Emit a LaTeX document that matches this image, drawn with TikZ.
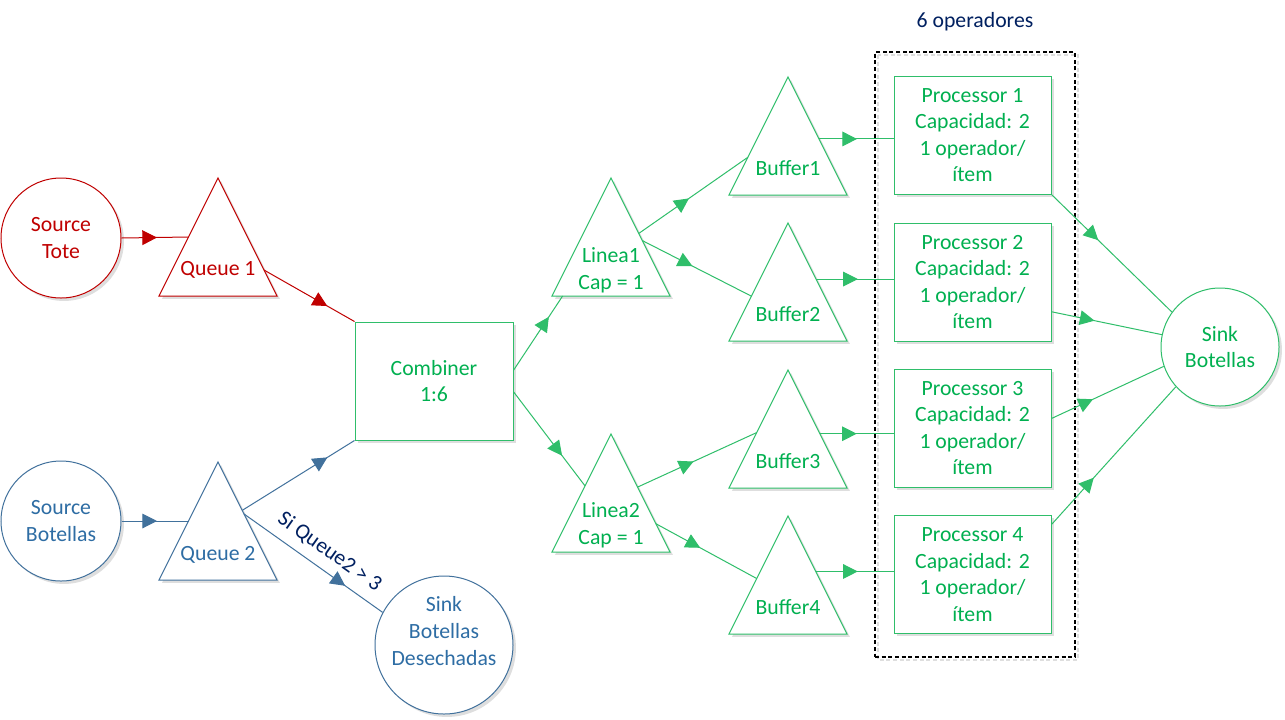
\documentclass[tikz,border=0pt]{standalone}
\usepackage{fontspec}
\setmainfont{Carlito}
\usetikzlibrary{arrows.meta,decorations.markings,calc,shadows}
\definecolor{cred}{HTML}{C00000}
\definecolor{cblue}{HTML}{41719C}
\definecolor{cbluet}{HTML}{2E6DA4}
\definecolor{cgreen}{HTML}{00B050}
\definecolor{cgline}{HTML}{2FBE6A}
\definecolor{cnavy}{HTML}{002060}
\definecolor{cshadow}{HTML}{DEDEDE}
\newcommand{\mytri}[4]{%
  \coordinate (#1a) at (#2,#3);
  \coordinate (#1l) at (#2-59,#3+118);
  \coordinate (#1r) at (#2+59,#3+118);
  \fill[cshadow] ([xshift=2.2pt,yshift=-2.2pt]#1a) -- ([xshift=2.2pt,yshift=-2.2pt]#1l) -- ([xshift=2.2pt,yshift=-2.2pt]#1r) -- cycle;
  \draw[#4, fill=white, line width=0.75pt] (#1a) -- (#1l) -- (#1r) -- cycle;}
\tikzset{
  txt/.style={font=\fontsize{16.3}{19.9}\selectfont, align=center, inner sep=0pt},
  shad/.style={drop shadow={shadow xshift=2.2pt, shadow yshift=-2.2pt, fill=cshadow, opacity=1}},
  circ/.style={circle, draw, fill=white, minimum size=#1, inner sep=0pt, line width=0.75pt, shad, txt},
  boxnode/.style={rectangle, draw=cgline, fill=white, minimum width=117.75pt, minimum height=88.5pt, line width=0.75pt, shad, txt, text=cgreen},
  conn/.style={line width=0.75pt, postaction={decorate}, decoration={markings, mark=at position #1 with {\arrow{Triangle[length=11pt,width=11pt]}}}},
  conn/.default=0.5,
}
\begin{document}
\begin{tikzpicture}[x=0.75pt, y=-0.75pt]
\useasboundingbox (0,0) rectangle (1285,719);
\fill[white] (0,0) rectangle (1285,719);

% group box
\draw[cshadow, dash pattern=on 3pt off 2pt, line width=1pt] (878,55) rectangle (1078,660);
\node[draw=black, dash pattern=on 3pt off 2pt, line width=0.9pt, minimum width=150pt, minimum height=453.75pt, inner sep=0pt] (grp) at (975,354.5) {};
\node[txt, text=cnavy] (grpl) at (975,22) {6 operadores};

% triangles
\mytri{q1}{218}{178}{cred}
\mytri{q2}{218}{462}{cblue}
\mytri{l1}{611}{178}{cgline}
\mytri{l2}{611}{434}{cgline}
\mytri{b1}{788}{77}{cgline}
\mytri{b2}{788}{223}{cgline}
\mytri{b3}{788}{370}{cgline}
\mytri{b4}{788}{516}{cgline}

\node[txt, text=cred] (q1) at (218,270) {Queue 1};
\node[txt, text=cbluet] (q2) at (218,555) {Queue 2};
\node[txt, text=cgreen] (l1) at (611,270) {Linea1\\Cap = 1};
\node[txt, text=cgreen] (l2) at (611,525.5) {Linea2\\Cap = 1};
\node[txt, text=cgreen] (b1) at (788,168) {Buffer1};
\node[txt, text=cgreen] (b2) at (788,314) {Buffer2};
\node[txt, text=cgreen] (b3) at (788,461) {Buffer3};
\node[txt, text=cgreen] (b4) at (788,607) {Buffer4};

% circles
\node[circ=90pt, draw=cred, text=cred] (st) at (61,238) {Source\\Tote};
\node[circ=90pt, draw=cblue, text=cbluet] (sb) at (61,521) {Source\\Botellas};
\node[circ=103.5pt, draw=cblue] (sd) at (444,645) {};
\node[txt, text=cbluet] (sdt) at (444,631) {Sink\\Botellas\\Desechadas};
\node[circ=88.5pt, draw=cgline, text=cgreen] (sk) at (1220,347) {Sink\\Botellas};

% boxes
\node[boxnode, minimum width=118.5pt] (comb) at (434,381) {Combiner\\1:6};
\node[boxnode] (p1) at (972.5,135) {Processor 1\\Capacidad: 2\\1 operador/\\ítem};
\node[boxnode] (p2) at (972.5,282) {Processor 2\\Capacidad: 2\\1 operador/\\ítem};
\node[boxnode] (p3) at (972.5,428) {Processor 3\\Capacidad: 2\\1 operador/\\ítem};
\node[boxnode] (p4) at (972.5,574.5) {Processor 4\\Capacidad: 2\\1 operador/\\ítem};

% connectors
\draw[conn=0.53, cred] (st.east) -- ($(q1a)!0.5!(q1l)$);
\draw[conn=0.70, cred] ($(q1a)!0.78!(q1r)$) -- (comb.north west);
\draw[conn=0.53, cblue] (sb.east) -- ($(q2a)!0.5!(q2l)$);
\draw[conn=0.76, cblue] ($(q2a)!0.41!(q2r)$) -- (comb.south west);
\draw[conn=0.73, cblue] ($(q2a)!0.44!(q2r)$) -- (sd.152)
  node[pos=0.54, above=7pt, sloped, txt, text=cnavy] (cond) {Si Queue2 > 3};

\draw[conn=0.72, cgline] ($(comb.north east)!0.41!(comb.south east)$) -- ($(l1l)!0.09!(l1r)$);
\draw[conn=0.68, cgline] ($(comb.north east)!0.59!(comb.south east)$) -- ($(l2a)!0.44!(l2l)$);
\draw[conn=0.46, cgline] ($(l1a)!0.47!(l1r)$) -- ($(b1a)!0.68!(b1l)$);
\draw[conn=0.46, cgline] ($(l1a)!0.53!(l1r)$) -- ($(b2a)!0.62!(b2l)$);
\draw[conn=0.47, cgline] ($(l2a)!0.45!(l2r)$) -- ($(b3a)!0.53!(b3l)$);
\draw[conn=0.44, cgline] ($(l2a)!0.76!(l2r)$) -- ($(b4a)!0.53!(b4l)$);

\coordinate (e1) at ($(b1a)!0.525!(b1r)$);
\coordinate (e2) at ($(b2a)!0.475!(b2r)$);
\coordinate (e3) at ($(b3a)!0.54!(b3r)$);
\coordinate (e4) at ($(b4a)!0.47!(b4r)$);
\draw[conn=0.51, cgline] (e1) -- (e1 -| p1.west);
\draw[conn=0.54, cgline] (e2) -- (e2 -| p2.west);
\draw[conn=0.50, cgline] (e3) -- (e3 -| p3.west);
\draw[conn=0.54, cgline] (e4) -- (e4 -| p4.west);

\draw[conn=0.39, cgline] (p1.south east) -- (sk.144);
\draw[conn=0.39, cgline] ($(p2.north east)!0.75!(p2.south east)$) -- (sk.168);
\draw[conn=0.37, cgline] ($(p3.north east)!0.42!(p3.south east)$) -- (sk.199);
\draw[conn=0.34, cgline] ($(p4.north east)!0.08!(p4.south east)$) -- (sk.222);
\end{tikzpicture}
\end{document}
